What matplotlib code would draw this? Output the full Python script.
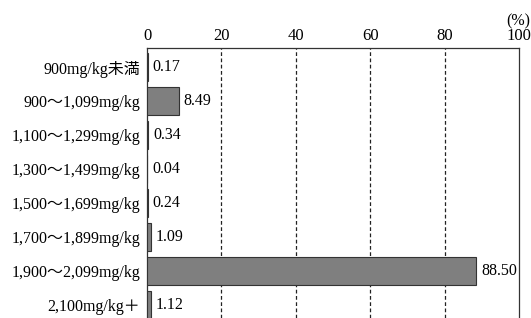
import matplotlib
matplotlib.use("Agg")
import matplotlib.pyplot as plt

plt.rcParams['font.family'] = ['Liberation Serif', 'Noto Sans CJK JP', 'DejaVu Sans']

categories = ["900mg/kg未満", "900～1,099mg/kg", "1,100～1,299mg/kg", "1,300～1,499mg/kg",
              "1,500～1,699mg/kg", "1,700～1,899mg/kg", "1,900～2,099mg/kg", "2,100mg/kg＋"]
values = [0.17, 8.49, 0.34, 0.04, 0.24, 1.09, 88.50, 1.12]
labels = ["0.17", "8.49", "0.34", "0.04", "0.24", "1.09", "88.50", "1.12"]
xticks = [0, 20, 40, 60, 80, 100]

fig = plt.figure(figsize=(5.31, 3.18), dpi=100)
ax = fig.add_axes([147/531, 0.0, 372/531, 1 - 48/318])

y = list(range(len(categories)))
ax.barh(y, values, height=0.8, color='#7f7f7f', edgecolor='#333333', linewidth=0.8, zorder=3)
for yi, v, lab in zip(y, values, labels):
    ax.annotate(lab, (v, yi), xytext=(3.5, 0), textcoords='offset points',
                va='center', ha='left', fontsize=11.5, zorder=4)

for gx in [20, 40, 60, 80]:
    ax.axvline(gx, color='#222222', linestyle=(0, (3, 2)), linewidth=0.9, zorder=1)

ax.set_xlim(0, 100)
ax.set_ylim(7.38, -0.56)
ax.set_yticks(y)
ax.set_yticklabels(categories, fontsize=11.5)
ax.set_xticks(xticks)
ax.xaxis.tick_top()
ax.tick_params(axis='both', length=0)
ax.tick_params(axis='y', pad=5, labelsize=11.5)
ax.tick_params(axis='x', pad=3, labelsize=12)
ax.spines['bottom'].set_visible(False)
for s in ['top', 'left', 'right']:
    ax.spines[s].set_linewidth(0.9)
    ax.spines[s].set_color('#333333')

fig.text(0.998, 1 - 21/318, "(%)", ha='right', va='center', fontsize=11.5)

fig.savefig("out.png", dpi=100)
